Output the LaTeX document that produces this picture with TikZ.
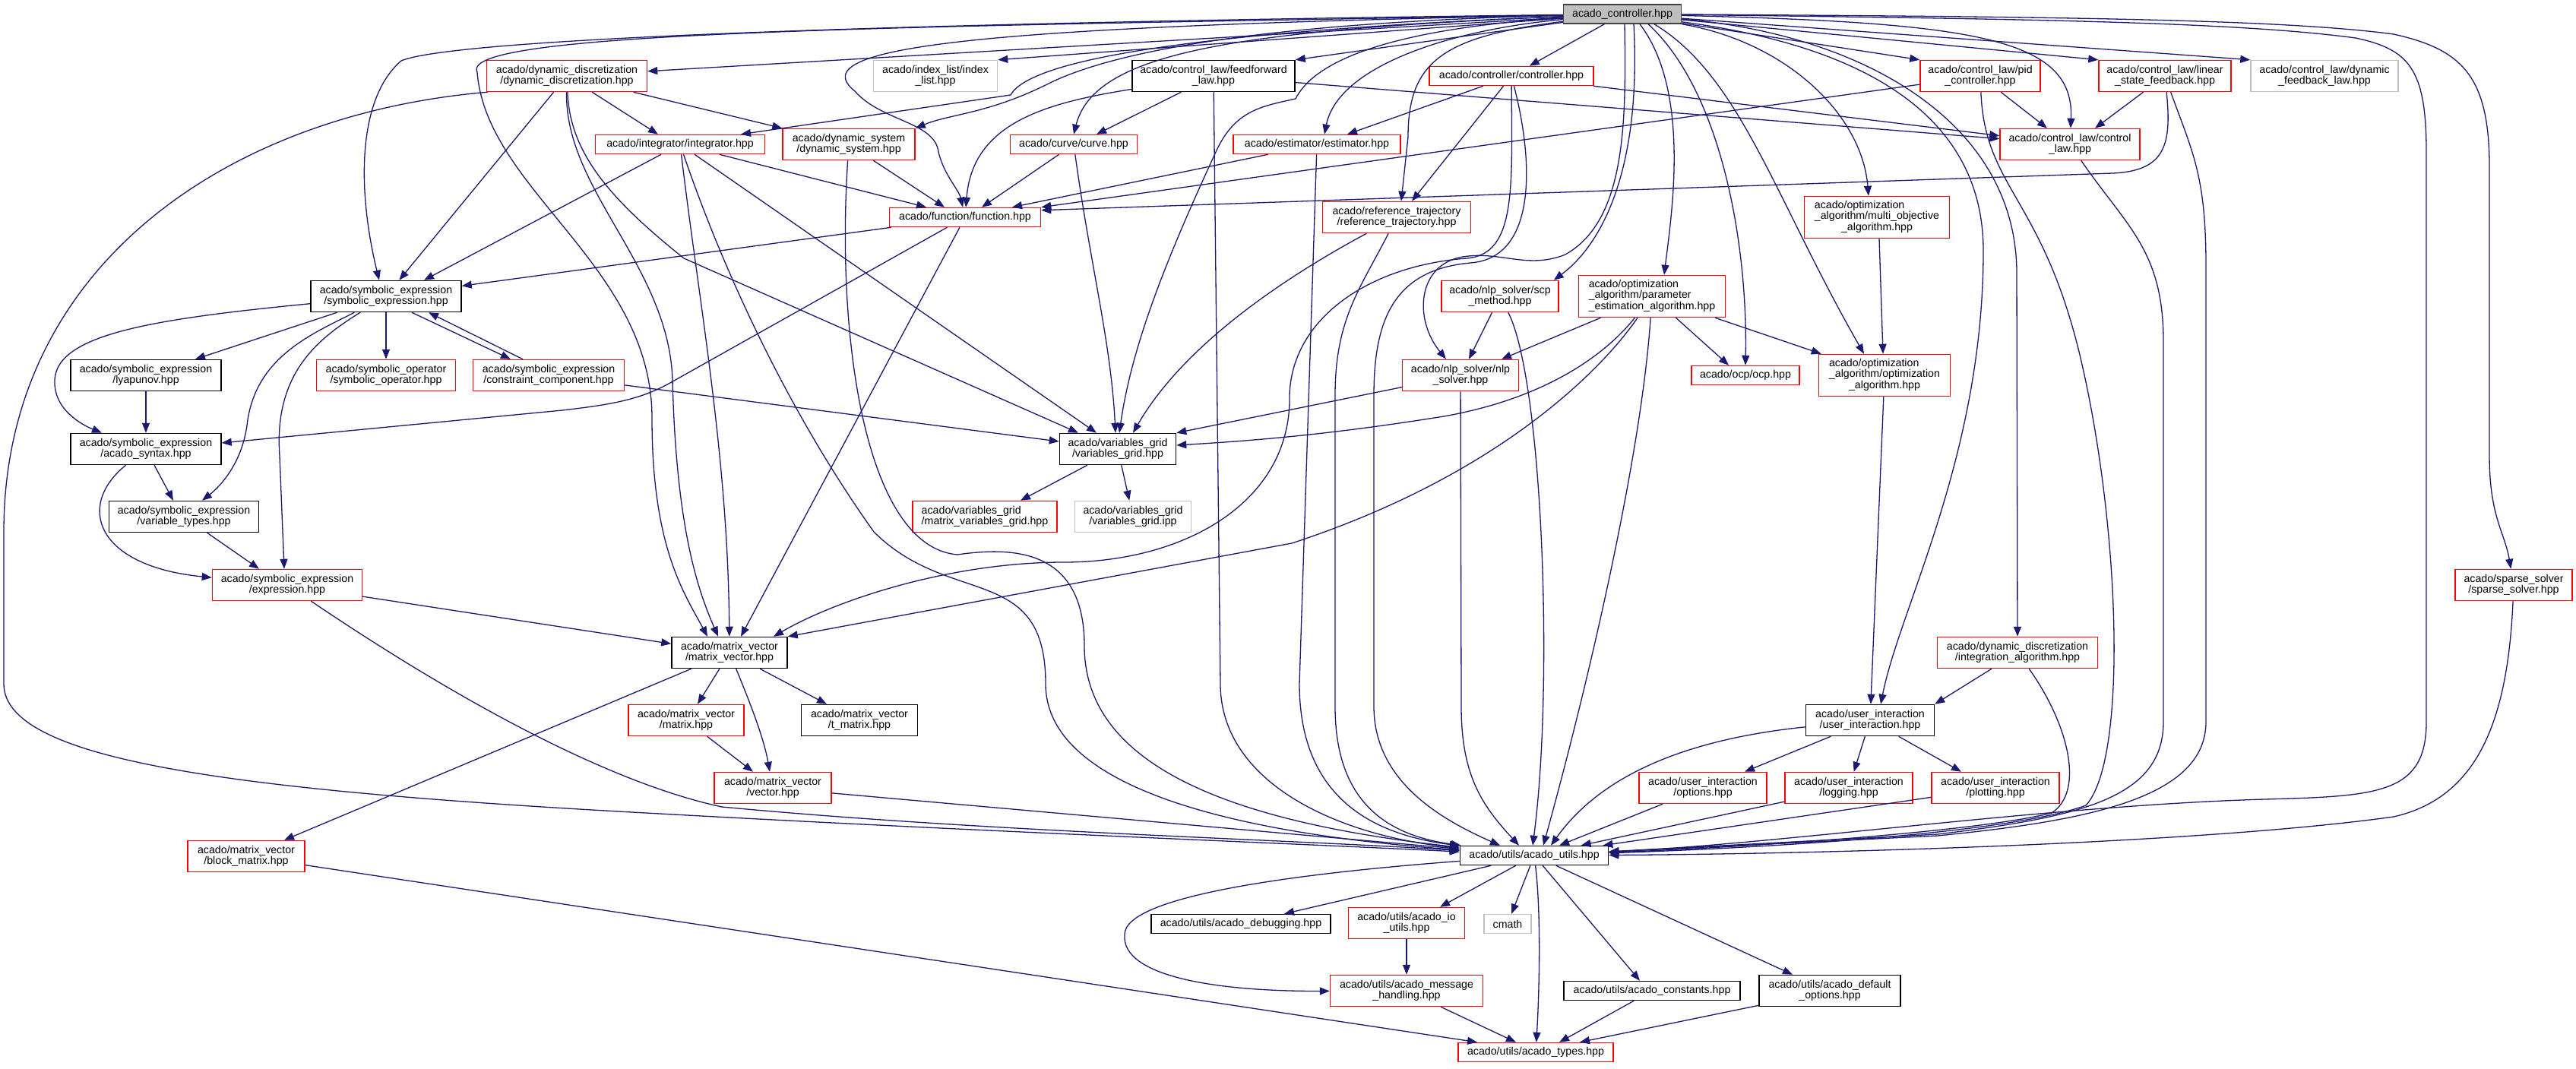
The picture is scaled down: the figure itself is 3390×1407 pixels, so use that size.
\documentclass[tikz,border=0pt]{standalone}
\usepackage{fontspec}
\setmainfont{Liberation Sans}
\usetikzlibrary{arrows.meta}
\definecolor{edgec}{RGB}{25,25,112}
\definecolor{grayb}{RGB}{191,191,191}
\definecolor{rootb}{RGB}{64,64,64}
\newcommand{\ndfont}{\fontsize{14.2pt}{14.5pt}\selectfont}
\begin{document}
\begin{tikzpicture}[x=1pt,y=-1pt,
 base/.style={rectangle, line width=1.5pt, fill=white, inner sep=0pt, font=\ndfont},
 nb/.style={base, align=center},
 rn/.style={nb, draw=red},
 bn/.style={nb, draw=black},
 gn/.style={nb, draw=grayb},
 rt/.style={base, draw=red},
 rootn/.style={nb, draw=rootb, fill=grayb},
 wh/.style 2 args={minimum width=#1pt, minimum height=#2pt},
 e/.style={draw=edgec, line width=1.3pt, -{Triangle[length=13pt,width=10pt]}}]
\fill[white] (0,0) rectangle (3390,1407);
\useasboundingbox (0,0) rectangle (3390,1407);

% ---------------- nodes ----------------
\node[rootn, wh={155}{25}] (R) at (2135,18.5) {acado\_controller.hpp};
\node[rn, wh={211}{41}] (DD) at (746,100) {acado/dynamic\_discretization\\/dynamic\_discretization.hpp};
\node[gn, wh={163}{41}] (IL) at (1231,100) {acado/index\_list/index\\\_list.hpp};
\node[bn, wh={214}{41}] (FF) at (1597,100) {acado/control\_law/feedforward\\\_law.hpp};
\node[rn, wh={216}{25}] (CT) at (1989,100) {acado/controller/controller.hpp};
\node[rn, wh={158}{41}] (PID) at (2606,100) {acado/control\_law/pid\\\_controller.hpp};
\node[rn, wh={174}{41}] (LSF) at (2849,100) {acado/control\_law/linear\\\_state\_feedback.hpp};
\node[gn, wh={194}{41}] (DFL) at (3059,100) {acado/control\_law/dynamic\\\_feedback\_law.hpp};
\node[rn, wh={223}{25}] (INT) at (895,190) {acado/integrator/integrator.hpp};
\node[rn, wh={174}{41}] (DS) at (1117,190) {acado/dynamic\_system\\/dynamic\_system.hpp};
\node[rn, wh={167}{25}] (CV) at (1413,190) {acado/curve/curve.hpp};
\node[rn, wh={220}{25}] (EST) at (1733,190) {acado/estimator/estimator.hpp};
\node[rn, wh={184}{41}] (CL) at (2724,190) {acado/control\_law/control\\\_law.hpp};
\node[rn, wh={199}{25}] (FN) at (1270,286) {acado/function/function.hpp};
\node[rn, wh={195}{41}] (RT) at (1838,286) {acado/reference\_trajectory\\/reference\_trajectory.hpp};
\node[rt, wh={191}{55}] (MO) at (2470,286) {\begin{tabular}{@{}l@{}}acado/optimization\\\_algorithm/multi\_objective\\\multicolumn{1}{@{}c@{}}{\_algorithm.hpp}\end{tabular}};
\node[bn, wh={198}{41}] (SE) at (508,390) {acado/symbolic\_expression\\/symbolic\_expression.hpp};
\node[rn, wh={154}{41}] (SCP) at (1974,390) {acado/nlp\_solver/scp\\\_method.hpp};
\node[rt, wh={193}{55}] (PE) at (2174,390) {\begin{tabular}{@{}l@{}}acado/optimization\\\_algorithm/parameter\\\_estimation\_algorithm.hpp\end{tabular}};
\node[bn, wh={198}{41}] (LY) at (192,494) {acado/symbolic\_expression\\/lyapunov.hpp};
\node[rn, wh={183}{41}] (SO) at (508,494) {acado/symbolic\_operator\\/symbolic\_operator.hpp};
\node[rn, wh={199}{41}] (CC) at (722,494) {acado/symbolic\_expression\\/constraint\_component.hpp};
\node[rn, wh={153}{41}] (NLP) at (1922,494) {acado/nlp\_solver/nlp\\\_solver.hpp};
\node[rn, wh={142}{25}] (OCP) at (2297,494) {acado/ocp/ocp.hpp};
\node[rt, wh={173}{55}] (OA) at (2480,494) {\begin{tabular}{@{}l@{}}acado/optimization\\\_algorithm/optimization\\\multicolumn{1}{@{}c@{}}{\_algorithm.hpp}\end{tabular}};
\node[bn, wh={198}{41}] (SYN) at (192,591) {acado/symbolic\_expression\\/acado\_syntax.hpp};
\node[bn, wh={153}{41}] (VG) at (1471,591) {acado/variables\_grid\\/variables\_grid.hpp};
\node[bn, wh={197}{41}] (VT) at (242,680) {acado/symbolic\_expression\\/variable\_types.hpp};
\node[rn, wh={190}{41}, align=left] (MVG) at (1296,680) {acado/variables\_grid\\/matrix\_variables\_grid.hpp};
\node[gn, wh={153}{41}] (IPP) at (1491,680) {acado/variables\_grid\\/variables\_grid.ipp};
\node[rn, wh={197}{41}] (EXP) at (378,770) {acado/symbolic\_expression\\/expression.hpp};
\node[rn, wh={154}{41}] (SS) at (3308,770) {acado/sparse\_solver\\/sparse\_solver.hpp};
\node[bn, wh={152}{41}] (MV) at (960,859) {acado/matrix\_vector\\/matrix\_vector.hpp};
\node[rn, wh={211}{41}] (IA) at (2655,859) {acado/dynamic\_discretization\\/integration\_algorithm.hpp};
\node[rn, wh={152}{41}] (MX) at (903,948) {acado/matrix\_vector\\/matrix.hpp};
\node[bn, wh={153}{41}] (TM) at (1131,948) {acado/matrix\_vector\\/t\_matrix.hpp};
\node[bn, wh={169}{41}] (UI) at (2461,948) {acado/user\_interaction\\/user\_interaction.hpp};
\node[rn, wh={154}{41}] (VEC) at (1017,1037) {acado/matrix\_vector\\/vector.hpp};
\node[rn, wh={168}{41}] (OPT) at (2241,1037) {acado/user\_interaction\\/options.hpp};
\node[rn, wh={168}{41}] (LOG) at (2433,1037) {acado/user\_interaction\\/logging.hpp};
\node[rn, wh={168}{41}] (PLT) at (2626,1037) {acado/user\_interaction\\/plotting.hpp};
\node[bn, wh={195}{25}] (AU) at (2019,1126) {acado/utils/acado\_utils.hpp};
\node[rn, wh={154}{41}] (BM) at (324,1127) {acado/matrix\_vector\\/block\_matrix.hpp};
\node[bn, wh={236}{25}] (DBG) at (1633,1216) {acado/utils/acado\_debugging.hpp};
\node[rn, wh={153}{41}] (IO) at (1851,1215) {acado/utils/acado\_io\\\_utils.hpp};
\node[gn, wh={62}{25}] (CM) at (1984,1216) {cmath};
\node[rn, wh={201}{41}] (MH) at (1851,1304) {acado/utils/acado\_message\\\_handling.hpp};
\node[bn, wh={232}{25}] (CON) at (2174,1304) {acado/utils/acado\_constants.hpp};
\node[bn, wh={186}{41}] (DEF) at (2408,1304) {acado/utils/acado\_default\\\_options.hpp};
\node[rn, wh={204}{25}] (AT) at (2021,1385) {acado/utils/acado\_types.hpp};

% ---------------- edges from root ----------------
\draw[e] (R) -- (DD);
\draw[e] (R) -- (IL.north east);
\draw[e] (R) -- (FF.north east);
\draw[e] (R) -- (CT);
\draw[e] (R) -- (PID.north west);
\draw[e] (R) -- (LSF.north west);
\draw[e] (R) -- (DFL.north west);
\draw[e] (R) .. controls (2600,30) and (2730,50) .. (CL);
\draw[e] (R) .. controls (2700,22) and (3000,25) .. (3150,45) .. controls (3240,65) and (3276,100) .. (3276,220) -- (3276,600) .. controls (3276,680) and (3296,700) .. (SS);
\draw[e] (R) .. controls (2700,25) and (2950,30) .. (3100,50) .. controls (3170,65) and (3193,90) .. (3193,200) -- (3193,950) .. controls (3193,1045) and (3130,1048) .. (2980,1052) .. controls (2700,1060) and (2350,1110) .. (AU);
\draw[e] ([xshift=3pt]R.south) .. controls (2140,160) and (2140,290) .. (2060,335) .. controls (2010,355) and (1975,330) .. (1925,338) .. controls (1865,348) and (1860,420) .. ([xshift=-19pt]NLP.north);
\draw[e] ([xshift=15pt]R.south) .. controls (2160,220) and (2110,320) .. ([xshift=-7pt]SCP.north east);
\draw[e] ([xshift=23pt]R.south) .. controls (2225,120) and (2200,280) .. ([xshift=16pt]PE.north);
\draw[e] ([xshift=34pt]R.south) .. controls (2265,120) and (2300,320) .. (OCP.north);
\draw[e] ([xshift=42pt]R.south) .. controls (2290,100) and (2335,260) .. ([xshift=-27pt]OA.north);
\draw[e] (R) .. controls (2350,55) and (2450,150) .. ([xshift=-11pt]MO.north);
\draw[e] (R) .. controls (2450,60) and (2610,150) .. (2610,330) .. controls (2610,600) and (2500,800) .. ([xshift=14pt]UI.north);
\draw[e] (R) .. controls (2450,45) and (2654,160) .. (2654,360) -- (IA);
\draw[e] (R) .. controls (1300,35) and (1050,60) .. (1125,120) .. controls (1160,160) and (1230,160) .. (1235,200) .. controls (1242,230) and (1262,250) .. (FN);
\draw[e] (R) .. controls (1650,30) and (1460,70) .. (1380,110) .. controls (1300,150) and (1250,150) .. (DS.north east);
\draw[e] (R) .. controls (1650,38) and (1360,70) .. (1330,125) -- ([xshift=80pt]INT.north);
\draw[e] (R) .. controls (1620,40) and (1440,70) .. (CV.north);
\draw[e] (R) .. controls (1900,40) and (1760,90) .. ([xshift=10pt]EST.north);
\draw[e] (R) .. controls (1900,48) and (1853,80) .. (1853,180) -- ([xshift=6pt]RT.north);
\draw[e] (R) .. controls (1200,30) and (600,50) .. (528,80) .. controls (470,130) and (470,250) .. ([xshift=-9pt]SE.north);
\draw[e] (R) .. controls (1200,35) and (600,40) .. (628,95) .. controls (640,250) and (858,350) .. (858,550) .. controls (858,720) and (900,780) .. ([xshift=-29pt]MV.north);
\draw[e] (R) .. controls (1800,40) and (1725,90) .. (1705,130) .. controls (1660,140) and (1625,145) .. (1600,200) .. controls (1540,330) and (1490,450) .. ([xshift=2pt]VG.north);

% ---------------- controller ----------------
\draw[e] (CT) -- ([xshift=40pt]EST.north);
\draw[e] (CT) -- ([xshift=20pt]RT.north);
\draw[e] (CT) -- (CL);
\draw[e] (CT) .. controls (1990,250) and (1995,335) .. (1930,340) .. controls (1800,350) and (1700,420) .. (1697,520) .. controls (1700,660) and (1560,740) .. (1400,740) .. controls (1250,740) and (1100,790) .. ([xshift=58pt]MV.north);
\draw[e] (CT) .. controls (2020,220) and (2020,340) .. (1935,346) .. controls (1835,355) and (1808,420) .. (1808,520) -- (1808,930) .. controls (1808,1030) and (1900,1080) .. ([xshift=-45pt]AU.north);

% ---------------- dynamic discretization ----------------
\draw[e] ([xshift=2pt]DD.south west) .. controls (300,150) and (5,350) .. (5,700) -- (5,900) .. controls (5,1000) and (300,1040) .. (850,1070) .. controls (1300,1095) and (1700,1110) .. (AU);
\draw[e] (DD) -- (SE);
\draw[e] (DD) .. controls (750,200) and (800,260) .. (900,340) -- ([xshift=-52pt]VG.north);
\draw[e] (DD) .. controls (743,250) and (880,350) .. (885,500) .. controls (890,700) and (920,780) .. ([xshift=-15pt]MV.north);
\draw[e] (DD) -- ([xshift=-29pt]INT.north);
\draw[e] (DD) -- (DS.north west);

% ---------------- integrator ----------------
\draw[e] (INT) -- ([xshift=50pt]SE.north);
\draw[e] (INT) .. controls (920,400) and (958,600) .. (MV);
\draw[e] (INT) .. controls (960,380) and (1050,560) .. (1150,700) .. controls (1250,800) and (1376,740) .. (1376,900) .. controls (1376,1030) and (1600,1095) .. (AU);
\draw[e] (INT) -- ([xshift=-28pt]VG.north);
\draw[e] (INT) -- ([xshift=-51pt]FN.north);

% ---------------- dynamic system ----------------
\draw[e] (DS) -- ([xshift=-27pt]FN.north);
\draw[e] (DS) .. controls (1100,450) and (1140,720) .. (1260,730) .. controls (1330,720) and (1427,720) .. (1427,850) .. controls (1427,1000) and (1600,1080) .. (AU);

% ---------------- feedforward ----------------
\draw[e] (FF) .. controls (1380,135) and (1280,160) .. (FN);
\draw[e] (FF) -- ([xshift=30pt]CV.north);
\draw[e] (FF) -- (CL);
\draw[e] (FF) -- (1606,900) .. controls (1606,1030) and (1760,1100) .. (AU);

% ---------------- curve / estimator ----------------
\draw[e] (CV) -- ([xshift=22pt]FN.north);
\draw[e] (CV) .. controls (1435,350) and (1462,450) .. ([xshift=-3pt]VG.north);
\draw[e] (EST) -- ([xshift=62pt]FN.north);
\draw[e] (EST) -- (1710,900) .. controls (1710,1060) and (1820,1100) .. (AU);

% ---------------- control laws ----------------
\draw[e] (PID) -- ([xshift=-30pt]CL.north);
\draw[e] (PID) -- (FN.north east);
\draw[e] (PID) .. controls (2612,250) and (2690,260) .. (2740,480) .. controls (2790,700) and (2800,1000) .. (2745,1060) .. controls (2650,1095) and (2350,1115) .. (AU);
\draw[e] (LSF) -- ([xshift=33pt]CL.north);
\draw[e] (LSF) .. controls (2858,190) and (2850,225) .. (2780,228) -- ([yshift=-4pt]FN.north east);
\draw[e] (LSF) .. controls (2885,200) and (2903,230) .. (2903,350) -- (2903,950) .. controls (2903,1050) and (2750,1080) .. (2550,1100) -- (AU);
\draw[e] (CL) .. controls (2800,300) and (2847,330) .. (2847,450) -- (2847,950) .. controls (2847,1050) and (2740,1075) .. (2550,1098) -- (AU);

% ---------------- reference trajectory ----------------
\draw[e] (RT) .. controls (1700,360) and (1560,450) .. ([xshift=20pt]VG.north);
\draw[e] (RT) .. controls (1790,380) and (1757,420) .. (1757,520) -- (1757,930) .. controls (1757,1060) and (1830,1100) .. (AU);

% ---------------- nlp / optimization ----------------
\draw[e] (SCP) -- ([xshift=11pt]NLP.north);
\draw[e] (SCP) .. controls (2030,500) and (2045,900) .. ([xshift=-2pt]AU.north);
\draw[e] (NLP) -- (VG.north east);
\draw[e] (NLP) -- (1923,930) .. controls (1923,1020) and (1950,1060) .. ([xshift=-20pt]AU.north);
\draw[e] (PE) -- ([xshift=54pt]NLP.north);
\draw[e] (PE) -- ([xshift=-22pt]OCP.north);
\draw[e] (PE) -- ([xshift=4pt]OA.north west);
\draw[e] (PE) .. controls (2110,470) and (2030,525) .. (1900,548) .. controls (1750,572) and (1650,580) .. ([yshift=5pt]VG.east);
\draw[e] (PE) .. controls (2120,470) and (1990,620) .. (1700,715) -- (MV.north east);
\draw[e] (PE) .. controls (2160,600) and (2090,900) .. ([xshift=12pt]AU.north);
\draw[e] ([xshift=3pt]MO.south) -- ([xshift=-2pt]OA.north);
\draw[e] (OA) -- (UI);

% ---------------- integration algorithm / sparse ----------------
\draw[e] (IA) -- (UI.north east);
\draw[e] (IA) .. controls (2720,950) and (2745,1040) .. (2700,1070) .. controls (2600,1095) and (2300,1115) .. (AU);
\draw[e] (SS) .. controls (3300,950) and (3260,1050) .. (3150,1075) .. controls (2900,1110) and (2400,1124) .. (AU);

% ---------------- user interaction ----------------
\draw[e] (UI) .. controls (2200,975) and (2100,1030) .. ([xshift=22pt]AU.north);
\draw[e] (UI) -- ([xshift=55pt]OPT.north);
\draw[e] (UI) -- (LOG);
\draw[e] (UI) -- ([xshift=-45pt]PLT.north);
\draw[e] (OPT) -- (AU);
\draw[e] (LOG) -- (AU);
\draw[e] (PLT) -- (AU);

% ---------------- utils ----------------
\draw[e] (AU) -- ([xshift=57pt]DBG.north);
\draw[e] (AU) -- ([xshift=44pt]IO.north);
\draw[e] (AU) -- (CM);
\draw[e] (AU) .. controls (2028,1200) and (2026,1300) .. (AT);
\draw[e] (AU) -- ([xshift=-16pt]CON.north);
\draw[e] (AU) -- ([xshift=-49pt]DEF.north);
\draw[e] (AU) .. controls (1700,1150) and (1480,1180) .. (1480,1230) .. controls (1475,1285) and (1600,1305) .. (MH);
\draw[e] (IO) -- (MH);
\draw[e] (MH) -- ([xshift=-26pt]AT.north);
\draw[e] (CON) -- ([xshift=31pt]AT.north);
\draw[e] (DEF) -- ([xshift=58pt]AT.north);
\draw[e] (BM) -- ([xshift=-77pt]AT.north);

% ---------------- matrix vector ----------------
\draw[e] (MV) -- ([xshift=15pt]MX.north);
\draw[e] (MV) .. controls (985,920) and (1005,970) .. ([xshift=-4pt]VEC.north);
\draw[e] (MV) -- ([xshift=-43pt]TM.north);
\draw[e] (MV) -- ([xshift=50pt]BM.north);
\draw[e] (MX) -- ([xshift=-26pt]VEC.north);
\draw[e] (VEC) -- (AU);

% ---------------- symbolic expressions ----------------
\draw[e] (EXP) -- (MV);
\draw[e] (EXP) .. controls (600,920) and (800,1030) .. (950,1062) .. controls (1300,1095) and (1700,1105) .. (AU);
\draw[e] (SE) -- ([xshift=65pt]LY.north);
\draw[e] (SE) .. controls (200,420) and (75,440) .. (72,500) .. controls (70,540) and (110,560) .. ([xshift=-58pt]SYN.north);
\draw[e] (SE) .. controls (410,440) and (335,470) .. (325,560) .. controls (318,610) and (290,640) .. ([xshift=24pt]VT.north);
\draw[e] (SE) .. controls (420,445) and (360,490) .. (368,600) -- ([xshift=-4pt]EXP.north);
\draw[e] (SE) -- (SO);
\draw[e] ([xshift=34pt]SE.south) -- ([xshift=-50pt]CC.north);
\draw[e] ([xshift=-34pt]CC.north) -- ([xshift=56pt]SE.south);
\draw[e] (LY) -- (SYN);
\draw[e] ([xshift=11pt]SYN.south) -- ([xshift=-14pt]VT.north);
\draw[e] (SYN) .. controls (100,665) and (125,745) .. (EXP);
\draw[e] (VT) -- ([xshift=-37pt]EXP.north);
\draw[e] (CC) -- (VG);

% ---------------- function ----------------
\draw[e] (FN) -- (SE);
\draw[e] (FN) -- (880,505) .. controls (840,527) and (800,533) .. (740,540) -- ([yshift=8pt]SYN.east);
\draw[e] (FN) -- ([xshift=15pt]MV.north);

% ---------------- variables grid ----------------
\draw[e] (VG) -- ([xshift=47pt]MVG.north);
\draw[e] (VG) -- (IPP);
\end{tikzpicture}
\end{document}
